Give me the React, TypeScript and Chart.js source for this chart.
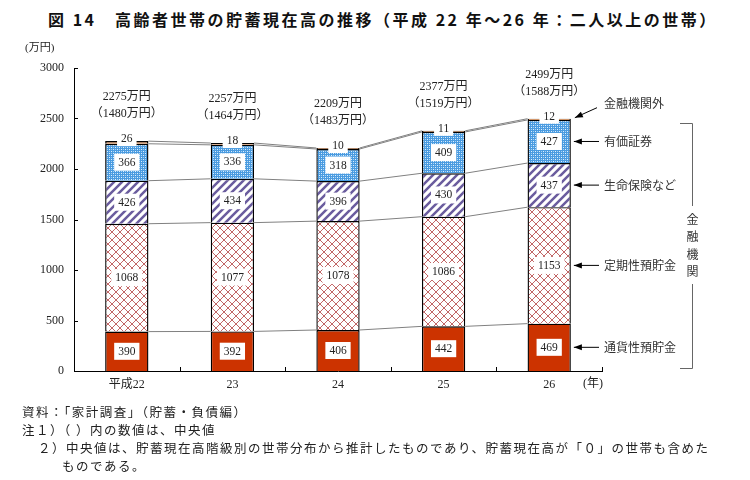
import { useEffect, useRef } from "react";
import { Chart, registerables } from "chart.js";
Chart.register(...registerables);

const years = ["平成22", "23", "24", "25", "26"];
const cashDeposits = [390, 392, 406, 442, 469];
const timeDeposits = [1068, 1077, 1078, 1086, 1153];
const insurance = [426, 434, 396, 430, 437];
const securities = [366, 336, 318, 409, 427];
const nonFinancial = [26, 18, 10, 11, 12];
const totals = [2275, 2257, 2209, 2377, 2499];
const medians = [1480, 1464, 1483, 1519, 1588];
const seriesNames = ["通貨性預貯金", "定期性預貯金", "生命保険など", "有価証券", "金融機関外"];
const bracketLabel = "金融機関";
const yMax = 3000;
const yStep = 500;

const SERIF = "'Liberation Serif', 'DejaVu Serif', 'Noto Sans CJK JP', serif";
const JP = "'Noto Sans CJK JP', sans-serif";

function makePatterns(ctx: CanvasRenderingContext2D) {
  const mk = (w: number, h: number, draw: (g: CanvasRenderingContext2D) => void) => {
    const c = document.createElement("canvas");
    c.width = w;
    c.height = h;
    const g = c.getContext("2d")!;
    draw(g);
    return ctx.createPattern(c, "repeat")!;
  };
  const time = mk(8, 8, (g) => {
    g.fillStyle = "#fff";
    g.fillRect(0, 0, 8, 8);
    g.strokeStyle = "#bb5555";
    g.lineWidth = 0.9;
    g.beginPath();
    g.moveTo(0, 0);
    g.lineTo(8, 8);
    g.moveTo(8, 0);
    g.lineTo(0, 8);
    g.stroke();
  });
  const ins = mk(8, 8, (g) => {
    g.fillStyle = "#fff";
    g.fillRect(0, 0, 8, 8);
    g.strokeStyle = "#6a5c9e";
    g.lineWidth = 2.5;
    g.beginPath();
    g.moveTo(-1, 9);
    g.lineTo(9, -1);
    g.moveTo(-3, 3);
    g.lineTo(3, -3);
    g.moveTo(5, 11);
    g.lineTo(11, 5);
    g.stroke();
  });
  const sec = mk(4, 4, (g) => {
    g.fillStyle = "#4a9be0";
    g.fillRect(0, 0, 4, 4);
    g.fillStyle = "#e0f0fc";
    g.fillRect(1, 1, 1, 1);
    g.fillRect(3, 3, 1, 1);
    g.fillStyle = "#a8d2f4";
    g.fillRect(3, 1, 1, 1);
    g.fillRect(1, 3, 1, 1);
  });
  return { time, ins, sec };
}

const overlay = {
  id: "overlay",
  afterDatasetsDraw(chart: any) {
    const ctx: CanvasRenderingContext2D = chart.ctx;
    const area = chart.chartArea;
    const ys = chart.scales.y;
    const metas = [0, 1, 2, 3, 4].map((i) => chart.getDatasetMeta(i).data as any[]);
    const n = years.length;
    ctx.save();

    // connector lines
    ctx.strokeStyle = "#808080";
    ctx.lineWidth = 1;
    for (let k = 0; k < 5; k++) {
      for (let i = 0; i < n - 1; i++) {
        const a = metas[k][i];
        const b = metas[k][i + 1];
        ctx.beginPath();
        ctx.moveTo(a.x + a.width / 2, a.y);
        ctx.lineTo(b.x - b.width / 2, b.y);
        ctx.stroke();
      }
    }

    // axis ticks (inward)
    ctx.strokeStyle = "#000";
    ctx.lineWidth = 1;
    ctx.beginPath();
    for (let v = 0; v <= yMax; v += yStep) {
      const y = Math.round(ys.getPixelForValue(v)) + 0.5;
      ctx.moveTo(area.left, y);
      ctx.lineTo(area.left + 4, y);
    }
    for (let i = 1; i <= n; i++) {
      const x = Math.round(area.left + ((area.right - area.left) * i) / n) + 0.5;
      ctx.moveTo(x, area.bottom);
      ctx.lineTo(x, area.bottom - 4);
    }
    ctx.stroke();

    // segment value labels
    const segData = [cashDeposits, timeDeposits, insurance, securities];
    ctx.font = "11.5px " + SERIF;
    ctx.textAlign = "center";
    ctx.textBaseline = "middle";
    for (let k = 0; k < 4; k++) {
      for (let i = 0; i < n; i++) {
        const el = metas[k][i];
        const cy = (el.y + el.base) / 2;
        const txt = String(segData[k][i]);
        const w = ctx.measureText(txt).width + 8;
        ctx.fillStyle = "#fff";
        ctx.fillRect(el.x - w / 2, cy - 8.5, w, 17);
        ctx.fillStyle = "#222";
        ctx.fillText(txt, el.x, cy + 0.5);
      }
    }
    // non financial labels on top
    for (let i = 0; i < n; i++) {
      const el = metas[4][i];
      const txt = String(nonFinancial[i]);
      const w = ctx.measureText(txt).width + 8;
      const cy = el.y - 2;
      ctx.fillStyle = "#fff";
      ctx.fillRect(el.x - w / 2, cy - 7, w, 14);
      ctx.fillStyle = "#222";
      ctx.fillText(txt, el.x, cy);
    }
    // totals and medians
    ctx.font = "12px " + SERIF;
    for (let i = 0; i < n; i++) {
      const el = metas[4][i];
      ctx.fillStyle = "#222";
      ctx.fillText(totals[i] + "万円", el.x, el.y - 44);
      ctx.fillText("（" + medians[i] + "万円）", el.x, el.y - 27);
    }

    // axis unit labels
    ctx.font = "11px " + SERIF;
    ctx.textAlign = "left";
    ctx.fillText("(万円)", 25, area.top - 20);
    ctx.font = "12px " + SERIF;
    ctx.textAlign = "right";
    ctx.fillText("(年)", area.right + 1, area.bottom + 13);

    // right annotations for last bar
    const last = n - 1;
    const tx = area.right + 1;
    ctx.font = "12px " + JP;
    ctx.textAlign = "left";
    ctx.fillStyle = "#333";
    ctx.strokeStyle = "#000";
    const arrow = (x1: number, y1: number, x2: number, y2: number) => {
      const ang = Math.atan2(y2 - y1, x2 - x1);
      ctx.beginPath();
      ctx.moveTo(x1, y1);
      ctx.lineTo(x2, y2);
      ctx.stroke();
      ctx.beginPath();
      ctx.moveTo(x2, y2);
      ctx.lineTo(x2 - 8 * Math.cos(ang) + 3 * Math.sin(ang), y2 - 8 * Math.sin(ang) - 3 * Math.cos(ang));
      ctx.lineTo(x2 - 8 * Math.cos(ang) - 3 * Math.sin(ang), y2 - 8 * Math.sin(ang) + 3 * Math.cos(ang));
      ctx.closePath();
      ctx.fillStyle = "#000";
      ctx.fill();
    };
    for (let k = 0; k < 4; k++) {
      const el = metas[k][last];
      const cy = (el.y + el.base) / 2;
      arrow(tx - 4, cy, el.x + el.width / 2 + 3, cy);
      ctx.fillStyle = "#333";
      ctx.fillText(seriesNames[k], tx + 1, cy);
    }
    const topEl = metas[4][last];
    arrow(tx - 6, topEl.y - 11, topEl.x + topEl.width / 2 + 4, topEl.y - 1);
    ctx.fillStyle = "#333";
    ctx.fillText(seriesNames[4], tx + 1, topEl.y - 15);

    // bracket
    const bx = 692.5;
    const bTop = Math.round(metas[3][last].y) + 3.5;
    const bBot = Math.round(ys.getPixelForValue(0)) - 2.5;
    const midY = (bTop + bBot) / 2;
    ctx.strokeStyle = "#666";
    ctx.lineWidth = 1;
    ctx.beginPath();
    ctx.moveTo(680, bTop);
    ctx.lineTo(bx, bTop);
    ctx.lineTo(bx, midY - 40);
    ctx.moveTo(bx, midY + 38);
    ctx.lineTo(bx, bBot);
    ctx.lineTo(680, bBot);
    ctx.stroke();
    ctx.textAlign = "center";
    ctx.fillStyle = "#333";
    for (let j = 0; j < bracketLabel.length; j++) {
      ctx.fillText(bracketLabel[j], bx, midY - 27 + j * 17.5);
    }
    ctx.restore();
  },
};

export default function App() {
  const ref = useRef<HTMLCanvasElement>(null);
  useEffect(() => {
    const canvas = ref.current!;
    const ctx = canvas.getContext("2d")!;
    const p = makePatterns(ctx);
    const common = {
      borderColor: "#000",
      borderWidth: 1.4,
      barPercentage: 0.41,
      categoryPercentage: 1,
      borderSkipped: "start" as const,
    };
    const chart = new Chart(canvas, {
      type: "bar",
      data: {
        labels: years,
        datasets: [
          { label: seriesNames[0], data: cashDeposits, backgroundColor: "#cc3300", ...common },
          { label: seriesNames[1], data: timeDeposits, backgroundColor: p.time as any, ...common },
          { label: seriesNames[2], data: insurance, backgroundColor: p.ins as any, ...common },
          { label: seriesNames[3], data: securities, backgroundColor: p.sec as any, ...common },
          { label: seriesNames[4], data: nonFinancial, backgroundColor: "#d98a50", ...common },
        ],
      },
      options: {
        animation: false,
        responsive: false,
        events: [],
        layout: { padding: { left: 0, top: 68, right: 148, bottom: 79 } },
        plugins: { legend: { display: false }, tooltip: { enabled: false } },
        scales: {
          x: {
            stacked: true,
            grid: { display: false, drawTicks: false },
            border: { display: true, color: "#000", width: 1 },
            ticks: { color: "#222", font: { family: SERIF, size: 12 }, padding: 7 },
            afterFit: (s: any) => {
              s.height = 30;
            },
          },
          y: {
            stacked: true,
            min: 0,
            max: yMax,
            grid: { display: false, drawTicks: false },
            border: { display: true, color: "#000", width: 1 },
            ticks: {
              stepSize: yStep,
              color: "#222",
              font: { family: SERIF, size: 12 },
              padding: 10,
              callback: (v: any) => String(v),
            },
            afterFit: (s: any) => {
              s.width = 74;
            },
          },
        },
      },
      plugins: [overlay],
    });
    return () => chart.destroy();
  }, []);

  const noteStyle: any = {
    position: "absolute",
    left: 22,
    fontFamily: JP,
    fontSize: 12.5,
    letterSpacing: "1.5px",
    color: "#222",
    whiteSpace: "pre",
    lineHeight: "18px",
  };
  return (
    <div style={{ position: "absolute", left: 0, top: 0, width: 750, height: 480, background: "#fff" }}>
      <div
        style={{
          position: "absolute",
          left: 48,
          top: 8,
          fontFamily: JP,
          fontWeight: "bold",
          fontSize: 16,
          letterSpacing: "2.5px",
          color: "#111",
          whiteSpace: "pre",
          lineHeight: "22px",
        }}
      >
        {"図 14　高齢者世帯の貯蓄現在高の推移（平成 22 年～26 年：二人以上の世帯）"}
      </div>
      <canvas ref={ref} width={750} height={480} style={{ position: "absolute", left: 0, top: 0 }} />
      <div style={{ ...noteStyle, top: 403 }}>{"資料：「家計調査」（貯蓄・負債編）"}</div>
      <div style={{ ...noteStyle, top: 421 }}>{"注１）（ ）内の数値は、中央値"}</div>
      <div style={{ ...noteStyle, top: 439, left: 38 }}>
        {"２）中央値は、貯蓄現在高階級別の世帯分布から推計したものであり、貯蓄現在高が「０」の世帯も含めた"}
      </div>
      <div style={{ ...noteStyle, top: 457, left: 62 }}>{"ものである。"}</div>
    </div>
  );
}
